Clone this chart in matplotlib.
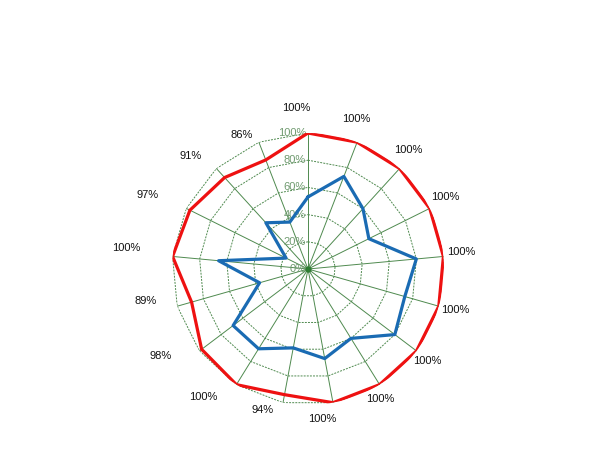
import numpy as np
import matplotlib
matplotlib.use("Agg")
import matplotlib.pyplot as plt

# data (percent)
red_values = [100, 100, 100, 100, 100, 100, 100, 100, 100, 94, 100, 98, 89, 100, 97, 91, 86]
blue_values = [53, 73, 60, 50, 80, 74, 80, 60, 67, 59, 69, 69, 37, 66, 18, 46, 37]
ring_ticks = [0, 20, 40, 60, 80, 100]
ring_labels = ["0%", "20%", "40%", "60%", "80%", "100%"]

n = len(red_values)
theta = np.arange(n) * 2 * np.pi / n
theta_c = np.append(theta, theta[0])

grid_c = "#4f8a4f"
fig = plt.figure(figsize=(6.11, 4.74), dpi=100)
W, H = 611, 474
cx, cy, R = 308, 269, 136
ax = fig.add_axes([(cx - R) / W, (H - cy - R) / H, 2 * R / W, 2 * R / H], projection="polar")
ax.set_theta_offset(np.pi / 2)
ax.set_theta_direction(-1)
ax.set_ylim(0, 100)
ax.grid(False)
ax.set_xticks([])
ax.set_yticks([])
ax.spines["polar"].set_visible(False)
ax.patch.set_alpha(0)

# polygon rings
for r in ring_ticks[1:]:
    ax.plot(theta_c, [r] * (n + 1), color=grid_c, lw=0.7, ls=(0, (2, 1.2)), zorder=1)
# spokes
for t in theta:
    ax.plot([t, t], [0, 100], color=grid_c, lw=0.7, zorder=1)
ax.plot([0], [0], marker="o", ms=3.5, color="#2e7d32", zorder=2)

# ring labels
for r, lab in zip(ring_ticks, ring_labels):
    ax.annotate(lab, xy=(0, r), xytext=(-2, 0), textcoords="offset pixels",
                ha="right", va="center", fontsize=8, color="#6f9a6f",
                family="Liberation Sans", zorder=3)

ax.plot(theta_c, red_values + red_values[:1], color="#ee1111", lw=2.3, zorder=4)
ax.plot(theta_c, blue_values + blue_values[:1], color="#1a6bb3", lw=2.3, zorder=5)

# value labels
for t, v in zip(theta, red_values):
    a = np.pi / 2 - t
    dx = 32.3 * np.cos(a) + 2.1 * np.sin(a) - 14.2
    dy = 20.8 * np.sin(a) - 2.2 * np.cos(a) + 4.3
    ax.annotate(f"{v}%", xy=(t, v), xytext=(dx, dy), textcoords="offset pixels",
                ha="center", va="center", fontsize=8, color="#111111",
                family="Liberation Sans", annotation_clip=False, zorder=6)

fig.savefig("out.png", dpi=100, facecolor="white")
